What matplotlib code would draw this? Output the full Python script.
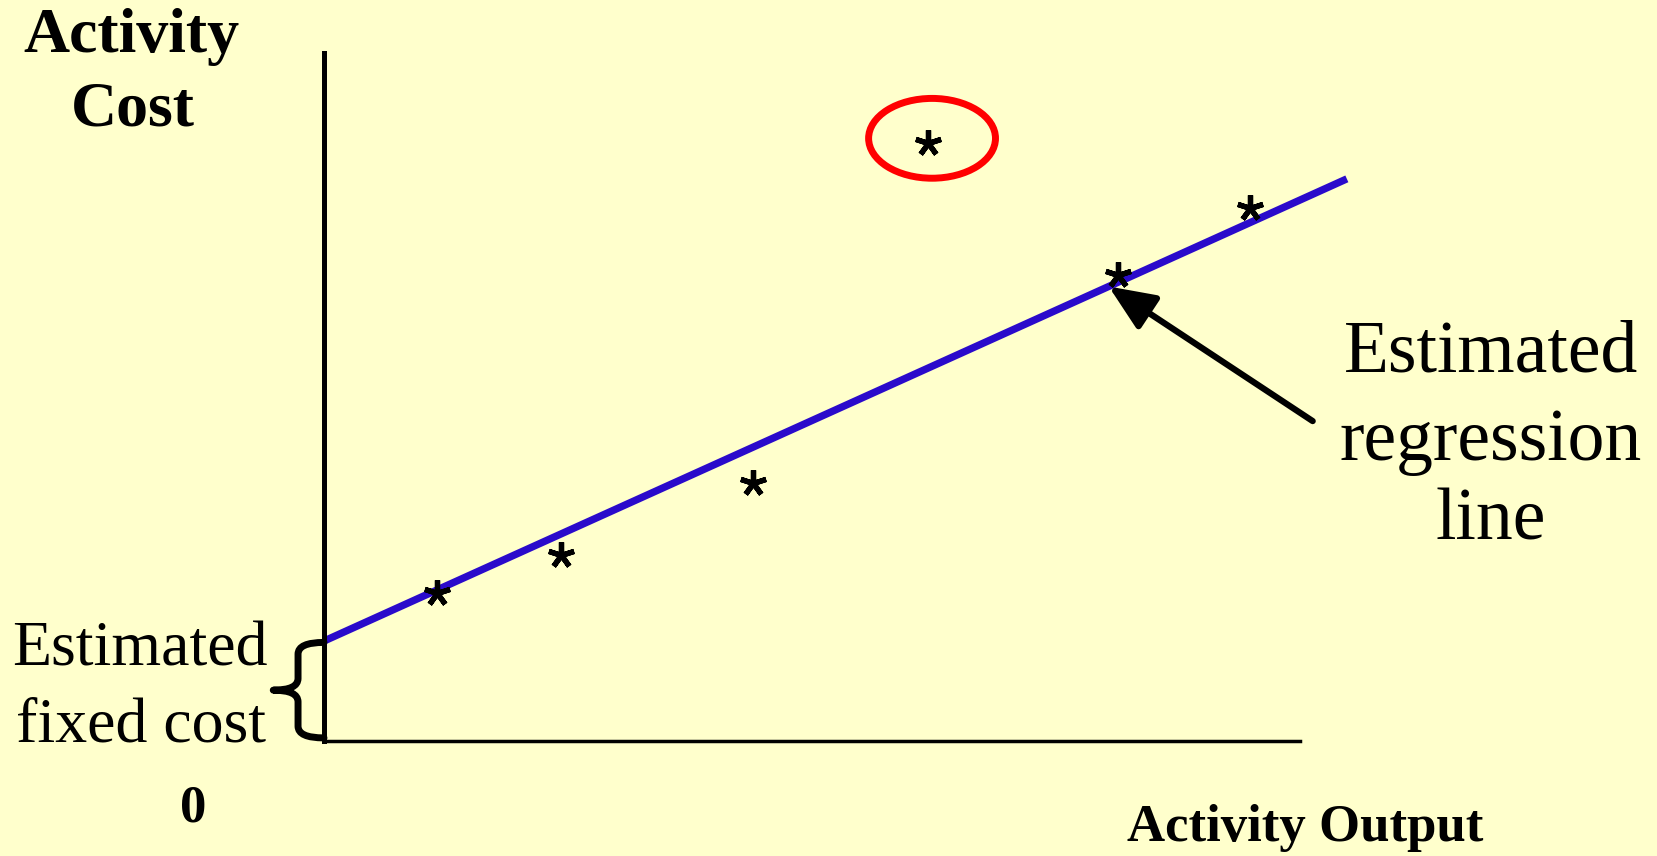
import matplotlib
matplotlib.use("Agg")
import matplotlib.pyplot as plt
import numpy as np
from matplotlib.patches import Ellipse, PathPatch
from matplotlib.path import Path
from matplotlib.markers import MarkerStyle

# ---------------- data ----------------
obs_x = [1.16, 2.43, 4.40, 6.19, 8.14, 9.49]
obs_y = [2.15, 2.70, 3.75, 8.69, 6.77, 7.75]
outlier_index = 3
reg_intercept = 1.453
reg_slope = 0.641
reg_x_range = [0.0, 10.48]

y_axis_title = ["Activity", "Cost"]
x_axis_title = "Activity Output"
origin_label = "0"
fixed_cost_label = ["Estimated", "fixed cost"]
reg_label = ["Estimated", "regression", "line"]

# ---------------- figure ----------------
W, H = 1657, 856
BG = "#FFFFCC"
fig = plt.figure(figsize=(W / 100, H / 100), dpi=100, facecolor=BG)

ox, oy = 324, 741          # pixel position of the origin
right_px, top_px = 1300, 53
ax = fig.add_axes([ox / W, (H - oy) / H, (right_px - ox) / W, (oy - top_px) / H])
ax.set_facecolor(BG)
ax.set_xlim(0, 10)
ax.set_ylim(0, 10)
ax.set_xticks([])
ax.set_yticks([])
for s in ["top", "right"]:
    ax.spines[s].set_visible(False)
ax.spines["left"].set_linewidth(3.6)
ax.spines["bottom"].set_linewidth(2.5)
ax.spines["left"].set_color("black")
ax.spines["bottom"].set_color("black")

# regression line
xr = np.array(reg_x_range)
ax.plot(xr, reg_intercept + reg_slope * xr, color="#2A0ACB", lw=5.3,
        solid_capstyle="butt", clip_on=False, zorder=2)

# observations (asterisks)
star = MarkerStyle((5, 2, 0), capstyle="round")
ax.plot(obs_x, obs_y, linestyle="none", marker=star, markersize=19,
        markeredgewidth=3.8, color="black", clip_on=False, zorder=3)

# outlier ellipse
ax.add_patch(Ellipse((obs_x[outlier_index] + 0.04, obs_y[outlier_index] + 0.07),
                     width=1.30, height=1.16, fill=False, edgecolor="#FF0000",
                     lw=5, clip_on=False, zorder=3))

# arrow pointing at the regression line
tip_x = 8.04
tip_y = reg_intercept + reg_slope * tip_x
ax.annotate("", xy=(tip_x, tip_y), xytext=(10.13, 4.65),
            arrowprops=dict(arrowstyle="-|>,head_length=0.7,head_width=0.3",
                            mutation_scale=40, lw=4.5, color="black",
                            shrinkA=0, shrinkB=0),
            annotation_clip=False, zorder=4)

# brace for the fixed cost
x0, xc, xp = 0.0, -0.266, -0.52
yt, yb = reg_intercept - 0.02, 0.045
ym = (yt + yb) / 2
r = 0.17
verts = [(x0, yt), (xc, yt), (xc, yt - r),
         (xc, ym + r),
         (xc, ym), (xp, ym),
         (xc, ym), (xc, ym - r),
         (xc, yb + r),
         (xc, yb), (x0, yb)]
codes = [Path.MOVETO, Path.CURVE3, Path.CURVE3,
         Path.LINETO,
         Path.CURVE3, Path.CURVE3,
         Path.CURVE3, Path.CURVE3,
         Path.LINETO,
         Path.CURVE3, Path.CURVE3]
ax.add_patch(PathPatch(Path(verts, codes), fill=False, lw=5, edgecolor="black",
                       capstyle="round", joinstyle="round", clip_on=False, zorder=3))

# ---------------- texts ----------------
SERIF = ["Liberation Serif", "DejaVu Serif"]


def ftext(xp_, yp_, s, size, weight="normal", **kw):
    return fig.text(xp_ / W, 1 - yp_ / H, s, fontsize=size, fontweight=weight,
                    family=SERIF, ha="center", va="baseline", color="black", **kw)


ftext(131, 52, y_axis_title[0], 46, "bold")
ftext(133, 126, y_axis_title[1], 46, "bold")

ftext(140, 665, fixed_cost_label[0], 46)
ftext(141, 742, fixed_cost_label[1], 46)

ftext(193, 821, origin_label, 38, "bold")

ftext(1491, 372, reg_label[0], 53)
ftext(1491, 460, reg_label[1], 53)
ftext(1491, 539, reg_label[2], 53)

ftext(1305, 841, x_axis_title, 38, "bold")

fig.savefig("out.png", dpi=100, facecolor=BG)
